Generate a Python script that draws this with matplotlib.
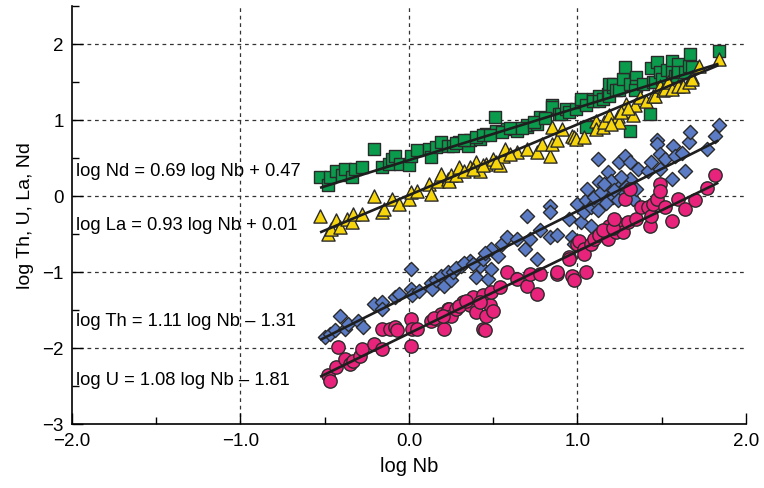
import numpy as np
import matplotlib
matplotlib.use("Agg")
import matplotlib.pyplot as plt
from matplotlib.ticker import MultipleLocator

plt.rcParams['font.family'] = ['Liberation Sans', 'DejaVu Sans']

# Nd (green squares)
nd_x = [-0.53, -0.48, -0.47, -0.43, -0.40, -0.38, -0.34, -0.32, -0.28, -0.21,
        -0.16, -0.12, -0.10, -0.08, -0.05, 0.00, 0.01, 0.05, 0.12, 0.13,
        0.16, 0.19, 0.23, 0.26, 0.30, 0.35, 0.36, 0.42, 0.46, 0.51,
        0.52, 0.58, 0.64, 0.70, 0.70, 0.76, 0.78, 0.85, 0.85, 0.89,
        0.90, 0.93, 0.95, 0.99, 1.02, 1.02, 1.05, 1.05, 1.09, 1.09,
        1.13, 1.13, 1.15, 1.18, 1.19, 1.19, 1.21, 1.21, 1.23, 1.25,
        1.27, 1.28, 1.31, 1.31, 1.35, 1.35, 1.34, 1.39, 1.43, 1.44,
        1.45, 1.46, 1.47, 1.49, 1.50, 1.53, 1.56, 1.56, 1.58, 1.59,
        1.60, 1.60, 1.64, 1.66, 1.67, 1.68, 1.84,
        0.28, 0.33, 0.40, 0.44, 0.48, 0.55, 0.60, 0.67, 0.74, 0.81]
nd_y = [0.25, 0.14, 0.25, 0.33, 0.27, 0.36, 0.25, 0.36, 0.38, 0.62,
        0.38, 0.42, 0.49, 0.53, 0.42, 0.40, 0.53, 0.60, 0.62, 0.51,
        0.64, 0.71, 0.66, 0.66, 0.71, 0.66, 0.73, 0.75, 0.82, 1.04,
        0.86, 0.88, 0.86, 0.91, 0.93, 0.95, 1.04, 1.19, 1.17, 1.08,
        1.08, 1.14, 1.10, 1.14, 1.23, 1.28, 1.19, 0.91, 1.28, 1.25,
        1.32, 1.25, 1.28, 1.34, 1.47, 1.32, 1.43, 1.47, 1.39, 1.39,
        1.54, 1.69, 0.86, 1.47, 1.56, 1.45, 1.39, 1.47, 1.08, 1.68,
        1.50, 1.50, 1.76, 1.63, 1.54, 1.65, 1.78, 1.63, 1.58, 1.58,
        1.74, 1.63, 1.63, 1.71, 1.87, 1.69, 1.90,
        0.69, 0.73, 0.78, 0.80, 0.80, 0.84, 0.89, 0.89, 0.97, 1.03]

# La (yellow triangles)
la_x = [-0.53, -0.48, -0.46, -0.43, -0.41, -0.37, -0.34, -0.33, -0.28, -0.21,
        -0.16, -0.15, -0.10, -0.06, 0.00, 0.01, 0.05, 0.12, 0.13, 0.17,
        0.19, 0.23, 0.24, 0.25, 0.28, 0.30, 0.36, 0.40, 0.42, 0.46,
        0.50, 0.54, 0.56, 0.57, 0.64, 0.70, 0.76, 0.79, 0.84, 0.85,
        0.85, 0.88, 0.91, 0.97, 0.98, 0.99, 1.04, 1.11, 1.11, 1.15,
        1.16, 1.19, 1.24, 1.25, 1.28, 1.29, 1.33, 1.34, 1.37, 1.41,
        1.45, 1.46, 1.49, 1.51, 1.52, 1.54, 1.56, 1.60, 1.63, 1.66,
        1.68, 1.68, 1.72, 1.84,
        0.33, 0.38, 0.44, 0.52, 0.60, 1.20, 1.26, 1.30]
la_y = [-0.26, -0.50, -0.43, -0.32, -0.41, -0.30, -0.35, -0.24, -0.24, 0.00,
        -0.21, -0.17, -0.04, -0.11, -0.04, 0.05, 0.07, 0.16, 0.03, 0.20,
        0.29, 0.22, 0.20, 0.27, 0.27, 0.38, 0.38, 0.45, 0.33, 0.42,
        0.49, 0.40, 0.53, 0.62, 0.58, 0.62, 0.58, 0.68, 0.53, 0.68,
        0.91, 0.73, 0.88, 0.79, 0.77, 0.75, 0.78, 0.99, 0.88, 0.91,
        0.97, 1.06, 1.05, 0.97, 1.12, 1.21, 1.07, 1.19, 1.30, 1.25,
        1.32, 1.32, 1.45, 1.39, 1.41, 1.50, 1.41, 1.45, 1.45, 1.50,
        1.56, 1.54, 1.71, 1.80,
        0.33, 0.36, 0.40, 0.45, 0.55, 0.95, 1.10, 1.15]

# Th (blue diamonds)
th_x = [-0.50, -0.47, -0.44, -0.41, -0.38, -0.36, -0.30, -0.27, -0.21, -0.16,
        -0.16, -0.08, -0.06, 0.01, 0.01, 0.02, 0.06, 0.13, 0.14, 0.16,
        0.19, 0.21, 0.23, 0.25, 0.26, 0.31, 0.36, 0.40, 0.42, 0.44,
        0.47, 0.49, 0.49, 0.53, 0.55, 0.58, 0.64, 0.69, 0.70, 0.72,
        0.76, 0.78, 0.84, 0.84, 0.84, 0.88, 0.95, 0.97, 0.98, 1.00,
        1.02, 1.04, 1.05, 1.06, 1.08, 1.08, 1.11, 1.12, 1.13, 1.15,
        1.18, 1.19, 1.21, 1.23, 1.25, 1.27, 1.28, 1.31, 1.31, 1.33,
        1.35, 1.36, 1.42, 1.44, 1.47, 1.47, 1.49, 1.49, 1.52, 1.56,
        1.57, 1.58, 1.62, 1.64, 1.66, 1.67, 1.77, 1.82, 1.84,
        1.10, 1.14, 1.17, 1.20, 1.22, 1.24, 1.26, 1.29, 1.16, 1.12,
        0.28, 0.33, 0.38, 0.45]
th_y = [-1.86, -1.82, -1.77, -1.58, -1.75, -1.68, -1.64, -1.73, -1.42, -1.40,
        -1.49, -1.33, -1.29, -0.96, -1.22, -1.31, -1.25, -1.14, -1.22, -1.11,
        -1.05, -1.18, -1.00, -1.11, -1.00, -0.92, -0.85, -1.07, -0.92, -0.83,
        -1.09, -0.70, -0.96, -0.79, -0.63, -0.54, -0.57, -0.70, -0.26, -0.57,
        -0.83, -0.45, -0.13, -0.21, -0.54, -0.52, -0.30, -0.54, -0.63, -0.11,
        -0.35, -0.21, -0.06, 0.09, -0.39, -0.15, -0.08, 0.49, 0.18, 0.00,
        0.31, 0.11, -0.02, 0.18, 0.44, 0.07, 0.53, 0.44, 0.22, -0.04,
        0.09, 0.36, 0.33, 0.44, 0.73, 0.68, 0.55, 0.36, 0.49, 0.22,
        0.66, 0.53, 0.57, 0.33, 0.71, 0.84, 0.62, 0.79, 0.93,
        -0.02, 0.05, -0.10, 0.20, 0.08, -0.05, 0.25, 0.12, 0.15, -0.18,
        -0.95, -0.88, -0.90, -0.75]

# U (pink circles)
u_x = [-0.48, -0.47, -0.43, -0.42, -0.38, -0.35, -0.33, -0.29, -0.28, -0.21,
       -0.16, -0.16, -0.11, -0.08, -0.07, 0.01, 0.01, 0.02, 0.05, 0.13,
       0.17, 0.19, 0.21, 0.23, 0.24, 0.25, 0.28, 0.32, 0.36, 0.38,
       0.40, 0.44, 0.44, 0.45, 0.46, 0.48, 0.49, 0.50, 0.54, 0.58,
       0.64, 0.70, 0.72, 0.76, 0.78, 0.88, 0.88, 0.95, 0.95, 0.97,
       0.98, 1.00, 1.01, 1.04, 1.04, 1.05, 1.08, 1.10, 1.13, 1.18,
       1.19, 1.23, 1.25, 1.27, 1.28, 1.30, 1.31, 1.35, 1.38, 1.42,
       1.43, 1.44, 1.45, 1.47, 1.49, 1.49, 1.52, 1.56, 1.60, 1.64,
       1.70, 1.77, 1.82,
       0.15, 0.20, 0.30, 0.34, 0.42, 1.15, 1.21, 1.22]
u_y = [-2.36, -2.43, -2.25, -1.99, -2.14, -2.21, -2.17, -2.10, -2.01, -1.95,
       -2.01, -1.75, -1.75, -1.73, -1.77, -1.62, -1.97, -1.75, -1.75, -1.64,
       -1.62, -1.55, -1.75, -1.49, -1.49, -1.58, -1.49, -1.40, -1.44, -1.33,
       -1.53, -1.31, -1.75, -1.77, -1.58, -1.44, -1.27, -1.51, -1.20, -1.00,
       -1.09, -1.18, -1.03, -1.29, -1.03, -1.03, -1.00, -0.81, -0.83, -1.05,
       -1.11, -0.63, -0.59, -0.70, -0.76, -1.00, -0.63, -0.57, -0.52, -0.57,
       -0.39, -0.48, -0.37, -0.48, -0.04, -0.35, 0.09, -0.30, -0.15, -0.15,
       -0.39, -0.26, -0.11, -0.04, 0.16, 0.07, -0.15, -0.33, -0.04, -0.17,
       -0.06, 0.11, 0.27,
       -1.60, -1.58, -1.45, -1.38, -1.40, -0.45, -0.42, -0.30]

# regression fits: slope, intercept, label, label y position
fits = [
    (0.69, 0.47, 'log Nd = 0.69 log Nb + 0.47', 0.33),
    (0.93, 0.01, 'log La = 0.93 log Nb + 0.01', -0.38),
    (1.11, -1.31, 'log Th = 1.11 log Nb \u2013 1.31', -1.64),
    (1.08, -1.81, 'log U = 1.08 log Nb \u2013 1.81', -2.41),
]
fit_range = [-0.52, 1.83]

fig = plt.figure(figsize=(7.64, 4.89), dpi=100)
ax = fig.add_axes([0.0942, 0.131, 0.882, 0.855])

edge = '#2a2a2a'
ax.scatter(nd_x, nd_y, marker='s', s=82, c='#0b9b4c', edgecolors=edge, linewidths=1.0, zorder=3)
ax.scatter(la_x, la_y, marker='^', s=90, c='#f6d50c', edgecolors=edge, linewidths=1.0, zorder=4)
ax.scatter(th_x, th_y, marker='D', s=52, c='#5b7cc4', edgecolors=edge, linewidths=1.0, zorder=3)
ax.scatter(u_x, u_y, marker='o', s=92, c='#e8237b', edgecolors=edge, linewidths=1.0, zorder=4)

xs = np.array(fit_range)
for slope, icpt, label, ty in fits:
    ax.plot(xs, slope * xs + icpt, color='#1e1e1e', lw=1.9, zorder=5)
    ax.text(-1.975, ty, label, fontsize=13.2, va='center', ha='left', zorder=6)

ax.set_xlim(-2.0, 2.0)
ax.set_ylim(-3.0, 2.5)
ax.set_xticks([-2.0, -1.0, 0.0, 1.0, 2.0])
ax.set_xticklabels(['\u22122.0', '\u22121.0', '0.0', '1.0', '2.0'])
ax.set_yticks([-3, -2, -1, 0, 1, 2])
ax.set_yticklabels(['\u22123', '\u22122', '\u22121', '0', '1', '2'])
ax.xaxis.set_minor_locator(MultipleLocator(0.5))
ax.yaxis.set_minor_locator(MultipleLocator(0.5))
ax.tick_params(which='major', direction='in', length=8, width=1.0, labelsize=13.5, pad=6)
ax.tick_params(which='minor', direction='in', length=5, width=1.0)

ax.spines['top'].set_visible(False)
ax.spines['right'].set_visible(False)
ax.spines['left'].set_linewidth(1.2)
ax.spines['bottom'].set_linewidth(1.2)

for v in [-1.0, 0.0, 1.0]:
    ax.axvline(v, color='#333333', lw=0.9, ls=(0, (3, 3)), zorder=1)
for v in [-2, -1, 0, 1, 2]:
    ax.axhline(v, color='#333333', lw=0.9, ls=(0, (3, 3)), zorder=1)

ax.set_xlabel('log Nb', fontsize=14.5, labelpad=5)
ax.set_ylabel('log Th, U, La, Nd', fontsize=14, labelpad=6)

fig.savefig('out.png', dpi=100)
